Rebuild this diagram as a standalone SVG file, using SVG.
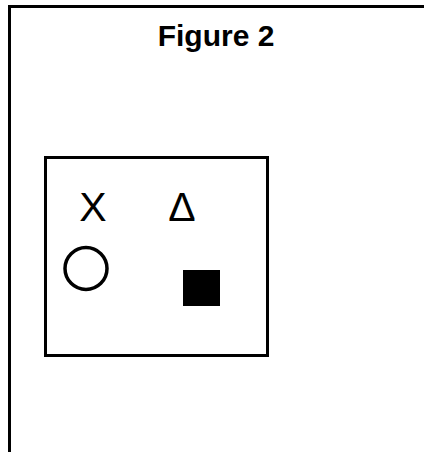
<svg xmlns="http://www.w3.org/2000/svg" width="424" height="452" viewBox="0 0 424 452">
<style>
.line{fill:none;stroke:#000;stroke-width:3}
.title{font-family:"Liberation Sans",Arial,sans-serif;font-weight:bold;font-size:30px;fill:#000}
.sym{font-family:"Liberation Sans",Arial,sans-serif;font-size:41px;fill:#000}
</style>
<rect width="424" height="452" fill="#fff"/>
<g id="frame">
<path class="line" d="M9.5 452 V6.5 H424"/>
</g>
<g id="title">
<text class="title" x="216" y="46" text-anchor="middle">Figure 2</text>
</g>
<g id="box">
<rect class="line" x="45.5" y="157.5" width="222" height="198"/>
</g>
<g id="x-mark">
<text class="sym" x="93" y="221" text-anchor="middle">X</text>
</g>
<g id="triangle">
<text class="sym" x="182" y="221" text-anchor="middle">Δ</text>
</g>
<g id="circle">
<circle cx="86" cy="268.5" r="21" fill="none" stroke="#000" stroke-width="3.5"/>
</g>
<g id="square">
<rect x="183" y="270" width="37" height="36" fill="#000"/>
</g>
</svg>
